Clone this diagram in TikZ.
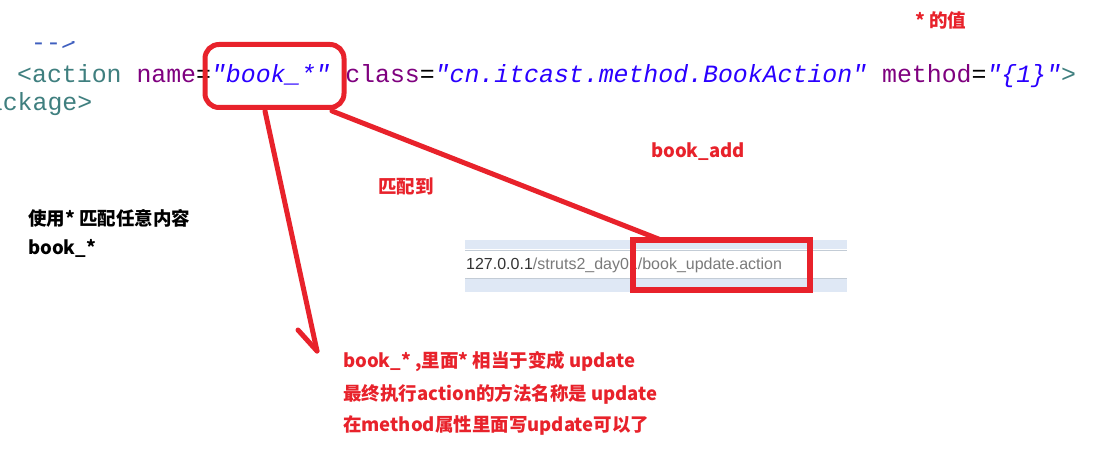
\documentclass[tikz,border=0pt]{standalone}
\usepackage{fontspec}
\setmonofont{Liberation Mono}
\newfontfamily\cjk{Noto Sans CJK SC}
\newfontfamily\urlfont{Liberation Sans}
\definecolor{markc}{HTML}{E8222B}
\definecolor{tagc}{HTML}{3F7F7F}
\definecolor{attrc}{HTML}{7F007F}
\definecolor{valc}{HTML}{2A00FF}
\definecolor{cmtc}{HTML}{3F5FBF}
\definecolor{bandc}{HTML}{DFE8F5}
\definecolor{rulec}{HTML}{C3CCD6}
\begin{document}
\begin{tikzpicture}[x=1pt,y=-1pt,
  code/.style={anchor=base west, inner sep=0, font=\ttfamily\fontsize{24.85}{30}\selectfont},
  note/.style={anchor=west, inner sep=0, font=\cjk\bfseries\fontsize{18.5}{22}\selectfont, text=markc},
  blacknote/.style={note, text=black},
  redline/.style={draw=markc, line width=5pt, line cap=round},
  hilite/.style={draw=markc, inner sep=0, outer sep=0}]
\useasboundingbox (0,0) rectangle (1107,470);
\clip (0,0) rectangle (1107,470);
\fill[white] (0,0) rectangle (1107,470);

% code lines
\begin{scope}
\clip (0,42) rectangle (200,100);
\node[code, text=cmtc] (cmt) at (31,51) {-{}-{}>};
\end{scope}
\node[code] (codeline) at (17,82.5) {{\color{tagc}<action} {\color{attrc}name}={\color{valc}\itshape"book\_*"} {\color{attrc}class}={\color{valc}\itshape"cn.itcast.method.BookAction"} {\color{attrc}method}={\color{valc}\itshape"\{1\}"}{\color{tagc}>}};
\node[code, text=tagc] (pkg) at (-57,110.5) {</package>};

% browser strip
\fill[bandc] (465,240) rectangle (847,249);
\fill[bandc] (465,279) rectangle (847,292);
\draw[rulec, line width=1pt] (465,250) -- (847,250);
\draw[rulec, line width=1pt] (465,278.5) -- (847,278.5);
\node[anchor=west, inner sep=0, font=\urlfont\fontsize{16}{19}\selectfont] (url) at (466,265)
  {{\color[HTML]{333333}127.0.0.1}{\color[HTML]{7A7A7A}/struts2\_day01/book\_update.action}};

% highlights
\node[hilite, line width=5pt, rounded corners=14pt, minimum width=139pt, minimum height=63pt] (sel) at (274.5,76) {};
\node[hilite, line width=6pt, minimum width=177pt, minimum height=50pt] (urlbox) at (721.5,265) {};

% connectors
\coordinate (s1) at (265,111);
\coordinate (tip) at (317,351);
\coordinate (barb) at (298,330);
\coordinate (s2) at (332,111);
\coordinate (e2) at (661,240);
\draw[redline] (s1) -- (tip);
\draw[redline] (barb) -- (tip);
\draw[redline] (s2) -- (e2);

% labels
\node[note] (star) at (915,20) {* 的值};
\node[note] (add) at (651,152) {book\_add};
\node[note] (match) at (378,186) {匹配到};
\node[blacknote] (use1) at (28,218) {使用* 匹配任意内容};
\node[blacknote] (use2) at (28,248) {book\_*};
\node[note] (n1) at (343,362) {book\_* ,里面* 相当于变成 update};
\node[note] (n2) at (343,394) {最终执行action的方法名称是 update};
\node[note] (n3) at (343,425) {在method属性里面写update可以了};
\end{tikzpicture}
\end{document}
